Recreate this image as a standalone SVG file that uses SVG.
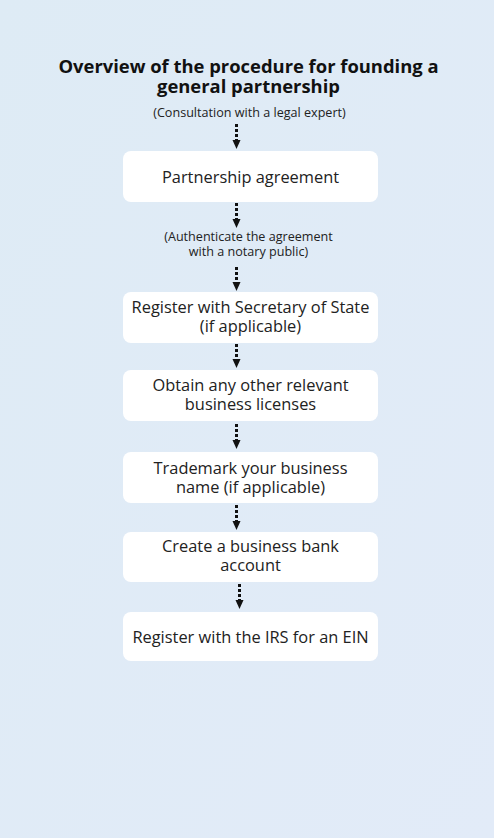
<svg xmlns="http://www.w3.org/2000/svg" width="494" height="838" viewBox="0 0 494 838">
<defs>
<linearGradient id="bg" x1="0" y1="0" x2="1" y2="1">
<stop offset="0" stop-color="#deebf5"/>
<stop offset="1" stop-color="#e2ebf8"/>
</linearGradient>
<style>
.box{fill:#ffffff;}
.t{font-family:"Open Sans","Noto Sans",sans-serif;fill:#222;text-anchor:middle;}
.bt{font-size:16.4px;}
.st{font-size:12.6px;}
.title{font-size:18.4px;font-weight:bold;fill:#111;}
.ar line{stroke:#111;stroke-width:3;stroke-dasharray:3 2;}
.ar path{fill:#111;}
</style>
</defs>
<rect width="494" height="838" fill="url(#bg)"/>
<g id="title">
<text class="t title" x="248.5" y="73">Overview of the procedure for founding a</text>
<text class="t title" x="248.5" y="93">general partnership</text>
</g>
<g id="note1"><text class="t st" x="249.5" y="117">(Consultation with a legal expert)</text></g>
<g id="n1"><rect class="box" x="123" y="151" width="255" height="51" rx="8"/><text class="t bt" x="250.5" y="183">Partnership agreement</text></g>
<g id="note2"><text class="t st" x="248.5" y="241">(Authenticate the agreement</text><text class="t st" x="248.5" y="256">with a notary public)</text></g>
<g id="n2"><rect class="box" x="123" y="292" width="255" height="51" rx="8"/><text class="t bt" x="250.5" y="313">Register with Secretary of State</text><text class="t bt" x="250.5" y="332">(if applicable)</text></g>
<g id="n3"><rect class="box" x="123" y="370" width="255" height="51" rx="8"/><text class="t bt" x="250.5" y="391">Obtain any other relevant</text><text class="t bt" x="250.5" y="410">business licenses</text></g>
<g id="n4"><rect class="box" x="123" y="452" width="255" height="51" rx="8"/><text class="t bt" x="250.5" y="474">Trademark your business</text><text class="t bt" x="250.5" y="493">name (if applicable)</text></g>
<g id="n5"><rect class="box" x="123" y="532" width="255" height="50" rx="8"/><text class="t bt" x="250.5" y="552">Create a business bank</text><text class="t bt" x="250.5" y="571">account</text></g>
<g id="n6"><rect class="box" x="123" y="612" width="255" height="49" rx="8"/><text class="t bt" x="250.5" y="643">Register with the IRS for an EIN</text></g>
<g id="connectors" class="ar">
<line x1="236.5" y1="124" x2="236.5" y2="141"/><path d="M232.5,140 L240.5,140 L236.5,149 Z"/>
<line x1="236.5" y1="203" x2="236.5" y2="220"/><path d="M232.5,219 L240.5,219 L236.5,228 Z"/>
<line x1="236.5" y1="267" x2="236.5" y2="283"/><path d="M232.5,282 L240.5,282 L236.5,291 Z"/>
<line x1="236.5" y1="344" x2="236.5" y2="360"/><path d="M232.5,359 L240.5,359 L236.5,368 Z"/>
<line x1="236.5" y1="424" x2="236.5" y2="441"/><path d="M232.5,440 L240.5,440 L236.5,449 Z"/>
<line x1="236.5" y1="505" x2="236.5" y2="522"/><path d="M232.5,521 L240.5,521 L236.5,530 Z"/>
<line x1="239.5" y1="584" x2="239.5" y2="601"/><path d="M235.5,600 L243.5,600 L239.5,609 Z"/>
</g>
</svg>
